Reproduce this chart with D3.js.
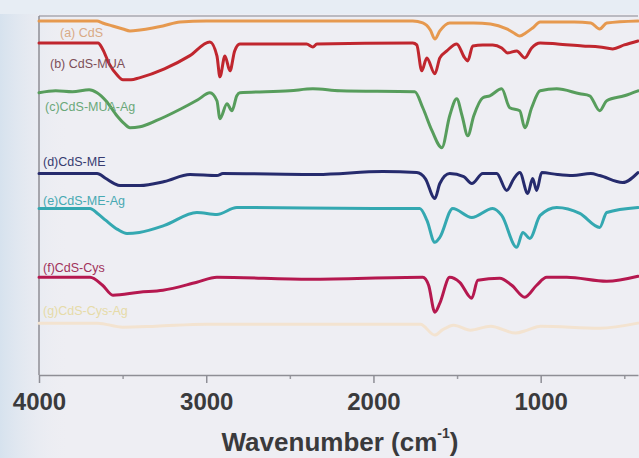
<!DOCTYPE html>
<html>
<head>
<meta charset="utf-8">
<script src="https://cdn.jsdelivr.net/npm/d3@7"></script>
<style>
  html, body { margin: 0; padding: 0; background: #eeeef3; }
  #chart { width: 639px; height: 458px; }
</style>
</head>
<body>
<div id="chart"></div>
<script>
// spectra: [wavenumber, transmittance (a.u.)]
const cdS = [[4000,355],[3653,355],[3620,353],[3560,350],[3498,347],[3456,345],[3396,346],[3320,348],[3259,350],[3157,354],[3000,355],[2362,355],[1765,355],[1705,353],[1660,346],[1633,337],[1603,345],[1544,353],[1400,353],[1300,352],[1203,347],[1160,343],[1125,340],[1090,343],[1048,348],[1003,354],[800,354],[700,353],[647,347],[605,353],[418,355]];
const cdSMua = [[4000,333],[3647,333],[3620,327],[3580,312],[3534,301],[3498,296],[3450,296],[3400,298],[3250,307],[3100,320],[2978,334],[2936,320],[2918,299],[2888,320],[2858,305],[2830,325],[2799,332],[2400,332],[2362,329],[2338,332],[1765,333],[1741,331],[1711,305],[1681,318],[1633,302],[1603,318],[1561,325],[1502,332],[1454,318],[1436,315],[1406,330],[1346,331],[1287,331],[1233,328],[1197,323],[1143,325],[1095,318],[1054,328],[1003,333],[900,332],[749,330],[647,329],[569,327],[500,331],[418,335]];
const cdSMuaAg = [[4000,283],[3900,285],[3800,284],[3700,286],[3653,283],[3600,275],[3534,260],[3490,252],[3456,248],[3396,249],[3300,255],[3150,267],[3050,276],[2978,283],[2936,275],[2918,257],[2876,272],[2846,265],[2817,280],[2799,283],[2500,285],[2362,287],[2200,285],[1753,284],[1705,268],[1650,245],[1591,228],[1544,260],[1502,277],[1470,260],[1436,240],[1400,260],[1346,278],[1304,280],[1233,287],[1185,268],[1125,265],[1095,248],[1054,268],[1003,285],[904,287],[766,282],[707,280],[647,265],[605,275],[500,280],[418,285]];
const cdSMe = [[4000,202],[3653,202],[3600,197],[3550,192],[3516,190],[3396,190],[3250,194],[3097,201],[2936,200],[2900,202],[2338,201],[1944,204],[1741,203],[1690,197],[1633,177],[1603,192],[1544,202],[1460,199],[1412,192],[1346,202],[1263,202],[1203,185],[1160,197],[1125,203],[1077,182],[1048,197],[1024,185],[994,203],[900,201],[808,200],[700,202],[647,200],[510,193],[418,203]];
const cdSMeAg = [[4000,167],[3695,167],[3650,162],[3600,155],[3530,146],[3474,142],[3400,143],[3250,150],[3056,163],[2936,161],[2817,168],[2000,167],[1723,167],[1680,155],[1633,133],[1603,138],[1526,167],[1412,158],[1287,167],[1233,160],[1143,128],[1107,143],[1065,137],[1003,160],[904,168],[766,162],[647,148],[605,163],[418,168]];
const cdSCys = [[4000,98],[3695,98],[3620,90],[3558,80],[3400,83],[3259,85],[3056,93],[2936,98],[2380,96],[1705,98],[1670,90],[1633,63],[1603,72],[1544,98],[1484,93],[1412,77],[1376,95],[1245,97],[1173,90],[1095,78],[1024,90],[964,98],[844,98],[605,94],[418,99]];
const cdSCysAg = [[4000,52],[3650,52],[3500,48],[3300,49],[3000,51],[1720,51],[1633,40],[1590,45],[1520,50],[1420,45],[1300,49],[1150,42],[1080,45],[1000,49],[647,47],[418,52]];

const seriesNames = ["(a) CdS", "(b) CdS-MUA", "(c)CdS-MUA-Ag", "(d)CdS-ME", "(e)CdS-ME-Ag", "(f)CdS-Cys", "(g)CdS-Cys-Ag"];
const majorTicks = [4000, 3000, 2000, 1000];
const minorTicks = [3500, 2500, 1500, 500];

const allSeries = [cdS, cdSMua, cdSMuaAg, cdSMe, cdSMeAg, cdSCys, cdSCysAg];
const lineColors = ["#e6994f", "#c0262e", "#579d5c", "#262b6d", "#34a8b1", "#b5184f", "#f3e3d0"];
const labelColors = ["#d9aa86", "#7d4f58", "#6aa879", "#363b70", "#47a9b2", "#a1315a", "#e6dba8"];
// label anchor (left, baseline) in pixels
const labelPos = [[60, 37], [50, 68], [45, 111], [43, 166], [43, 205], [43, 272], [43, 315]];

// set the dimensions and margins for the chart
let margin = {top: 16, right: 1, bottom: 83, left: 39};
let width = 639 - margin.left - margin.right,
    height = 458 - margin.top - margin.bottom;

const root = d3.select("#chart")
  .append("svg")
    .attr("width", 639)
    .attr("height", 458);

// soft backdrop like the slide behind the figure
const defs = root.append("defs");
const grad = defs.append("linearGradient")
    .attr("id", "leftGlow")
    .attr("x1", "0").attr("x2", "1").attr("y1", "0").attr("y2", "0");
grad.append("stop").attr("offset", "0").attr("stop-color", "#d6e2ee");
grad.append("stop").attr("offset", "1").attr("stop-color", "#eeeef3").attr("stop-opacity", 0);

root.append("rect")
    .attr("width", 639).attr("height", 458)
    .attr("fill", "#eeeef3");
root.append("rect")
    .attr("width", 70).attr("height", 458)
    .attr("fill", "url(#leftGlow)");
root.append("rect")
    .attr("width", 639).attr("height", 14)
    .attr("fill", "#e7edf4");

const svg = root.append("g")
    .attr("transform", "translate(" + margin.left + "," + margin.top + ")");

// scales
const x = d3.scaleLinear()
    .domain([4000, 418])
    .range([0, width]);

const y = d3.scaleLinear()
    .domain([0, 360])
    .range([height, 0]);

// frame: top and left lines
svg.append("line")
    .attr("x1", 0).attr("x2", width)
    .attr("y1", 0).attr("y2", 0)
    .attr("stroke", "#a9a9b0")
    .attr("stroke-width", 1.5);
svg.append("line")
    .attr("x1", 0).attr("x2", 0)
    .attr("y1", 0).attr("y2", height)
    .attr("stroke", "#8e8e95")
    .attr("stroke-width", 1.5);

// spectra
const line = d3.line()
    .x(function(d) { return x(d[0]); })
    .y(function(d) { return y(d[1]); })
    .curve(d3.curveMonotoneX);

svg.selectAll("path.spec")
    .data(allSeries)
    .enter()
    .append("path")
      .attr("class", "spec")
      .attr("d", line)
      .attr("fill", "none")
      .attr("stroke", function(d, i) { return lineColors[i]; })
      .attr("stroke-width", 3)
      .attr("stroke-linejoin", "round")
      .attr("stroke-linecap", "round");

// series labels
svg.selectAll("text.lab")
    .data(seriesNames)
    .enter()
    .append("text")
      .attr("class", "lab")
      .attr("x", function(d, i) { return labelPos[i][0] - margin.left; })
      .attr("y", function(d, i) { return labelPos[i][1] - margin.top; })
      .attr("fill", function(d, i) { return labelColors[i]; })
      .style("font-family", "'Liberation Sans', Arial, sans-serif")
      .style("font-size", "12.5px")
      .text(function(d) { return d; });

// minor ticks
svg.append("g")
    .attr("transform", "translate(0," + height + ")")
    .call(d3.axisBottom(x).tickValues(minorTicks).tickSize(4).tickFormat(""))
    .call(function(g) { g.select(".domain").remove(); })
    .selectAll("line").attr("stroke", "#9a9aa0").attr("stroke-width", 1.5);

// x axis
const xAxis = svg.append("g")
    .attr("transform", "translate(0," + height + ")")
    .call(d3.axisBottom(x).tickValues(majorTicks).tickSize(8).tickSizeOuter(0).tickPadding(10).tickFormat(d3.format("d")));

xAxis.select(".domain").attr("stroke", "#8e8e95").attr("stroke-width", 1.5);
xAxis.selectAll(".tick line").attr("stroke", "#8e8e95").attr("stroke-width", 1.5);
xAxis.selectAll(".tick text")
    .attr("fill", "#3a3a3c")
    .style("font-family", "'Liberation Sans', Arial, sans-serif")
    .style("font-size", "24px")
    .style("font-weight", "bold");

// axis title
const title = root.append("text")
    .attr("x", 340)
    .attr("y", 451)
    .attr("text-anchor", "middle")
    .attr("fill", "#3a3a3c")
    .style("font-family", "'Liberation Sans', Arial, sans-serif")
    .style("font-size", "26px")
    .style("font-weight", "bold");
title.append("tspan").text("Wavenumber (cm");
title.append("tspan").attr("dy", -13).style("font-size", "14px").text("-1");
title.append("tspan").attr("dy", 13).text(")");
</script>
</body>
</html>
